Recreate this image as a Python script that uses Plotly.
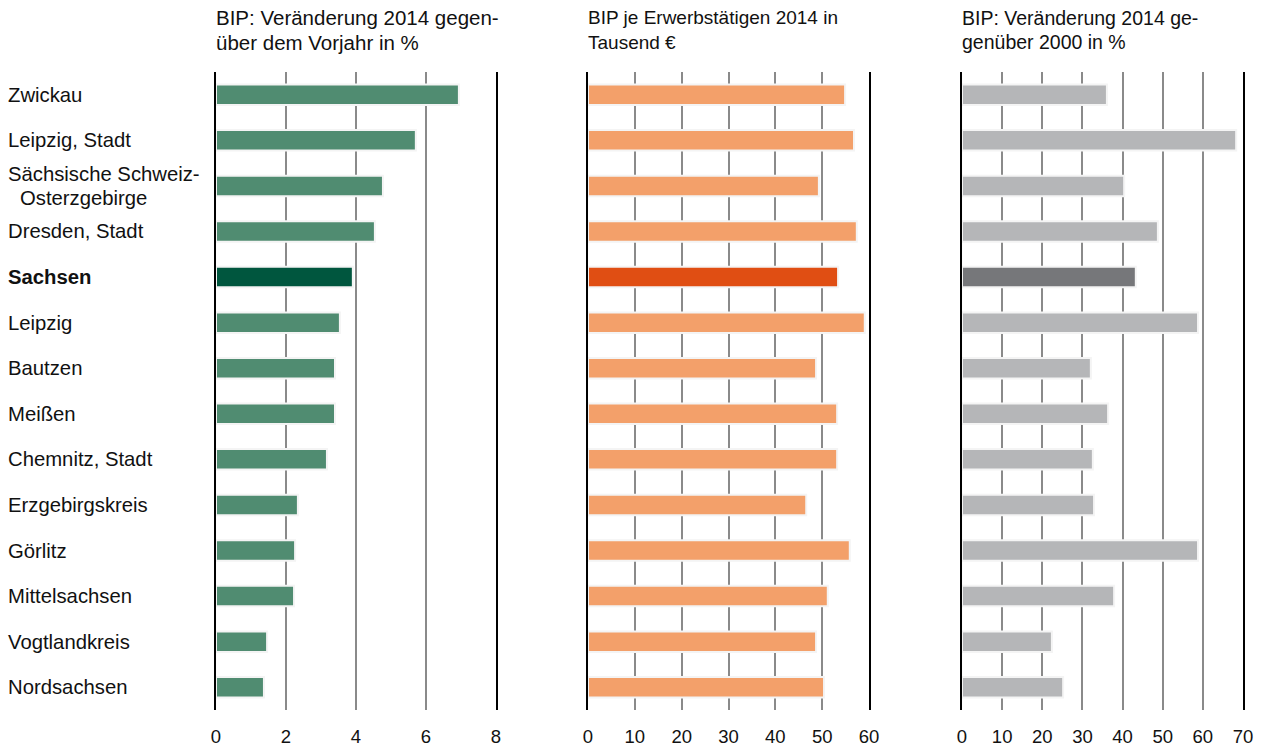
import plotly.graph_objects as go

regions = ["Zwickau", "Leipzig, Stadt", "Sächsische Schweiz-Osterzgebirge", "Dresden, Stadt",
           "Sachsen", "Leipzig", "Bautzen", "Meißen", "Chemnitz, Stadt", "Erzgebirgskreis",
           "Görlitz", "Mittelsachsen", "Vogtlandkreis", "Nordsachsen"]
label_lines = [["Zwickau"], ["Leipzig, Stadt"], ["Sächsische Schweiz-", "Osterzgebirge"],
               ["Dresden, Stadt"], ["<b>Sachsen</b>"], ["Leipzig"], ["Bautzen"], ["Meißen"],
               ["Chemnitz, Stadt"], ["Erzgebirgskreis"], ["Görlitz"], ["Mittelsachsen"],
               ["Vogtlandkreis"], ["Nordsachsen"]]
bip_change_prev = [6.94, 5.71, 4.77, 4.54, 3.91, 3.54, 3.40, 3.40, 3.17, 2.34, 2.26, 2.23, 1.46, 1.37]
bip_per_worker = [54.9, 56.8, 49.3, 57.4, 53.4, 59.1, 48.7, 53.2, 53.2, 46.6, 55.9, 51.2, 48.7, 50.4]
bip_change_2000 = [36.1, 68.3, 40.4, 48.8, 43.3, 58.8, 32.1, 36.4, 32.6, 32.9, 58.8, 37.9, 22.4, 25.2]

titles = [["BIP: Veränderung 2014 gegen-", "über dem Vorjahr in %"],
          ["BIP je Erwerbstätigen 2014 in", "Tausend €"],
          ["BIP: Veränderung 2014 ge-", "genüber 2000 in %"]]
title_sizes = [20.5, 19, 19.5]
ranges = [[0, 8], [0, 60], [0, 70]]
dticks = [2, 10, 10]
colors = [("#508c71", "#00563e"), ("#f3a06a", "#e04e13"), ("#b5b6b8", "#76777a")]
domains = [[216 / 1266, 496 / 1266], [588 / 1266, 869 / 1266], [962 / 1266, 1243 / 1266]]
series = [bip_change_prev, bip_per_worker, bip_change_2000]

FONT = "Liberation Sans, Arial, sans-serif"
W, H = 1266, 748
fig = go.Figure()
for i, vals in enumerate(series):
    n = "" if i == 0 else str(i + 1)
    cols = [colors[i][1] if r == "Sachsen" else colors[i][0] for r in regions]
    fig.add_trace(go.Bar(
        x=vals, y=regions, orientation="h", width=0.45,
        marker=dict(color=cols, line=dict(color="#f4f4f4", width=2)),
        xaxis="x" + n, yaxis="y" + n, showlegend=False, hoverinfo="x+y"))
    fig.layout["xaxis" + n] = dict(
        domain=domains[i], range=ranges[i], dtick=dticks[i], tick0=0,
        showgrid=True, gridcolor="#8a8a8a", gridwidth=2, zeroline=False,
        showline=False, ticks="outside", ticklen=10, tickcolor="rgba(0,0,0,0)",
        tickfont=dict(family=FONT, size=18.5, color="#111"),
        anchor="y" + n, fixedrange=True)
    fig.layout["yaxis" + n] = dict(
        domain=[1 - 710 / H, 1 - 72 / H], anchor="x" + n, type="category",
        categoryorder="array", categoryarray=regions,
        range=[13.5, -0.5], showticklabels=False, showgrid=False,
        showline=True, mirror=True, linecolor="black", linewidth=2,
        layer="above traces", zeroline=False, ticks="", fixedrange=True)
    for k, line in enumerate(titles[i]):
        fig.add_annotation(text=line, xref="paper", yref="paper",
                           x=domains[i][0] - 2 / W, y=1 - (18 + 24 * k) / H,
                           xanchor="left", yanchor="middle", align="left", showarrow=False,
                           font=dict(family=FONT, size=title_sizes[i], color="#111"))

for r, lines in zip(regions, label_lines):
    nl = len(lines)
    for k, line in enumerate(lines):
        fig.add_annotation(text=line, xref="paper", yref="y",
                           x=(6 if k == 0 else 18) / W, y=r,
                           yshift=(nl - 1) * 12 - 24 * k,
                           xanchor="left", yanchor="middle", align="left", showarrow=False,
                           font=dict(family=FONT, size=20.3, color="#111"))

fig.update_layout(
    width=W, height=H, margin=dict(l=0, r=0, t=0, b=0, autoexpand=False),
    plot_bgcolor="white", paper_bgcolor="white",
)
fig.write_html("out.html", config={"displayModeBar": False},
               post_script="document.body.style.margin='0';document.body.style.overflow='hidden';")
